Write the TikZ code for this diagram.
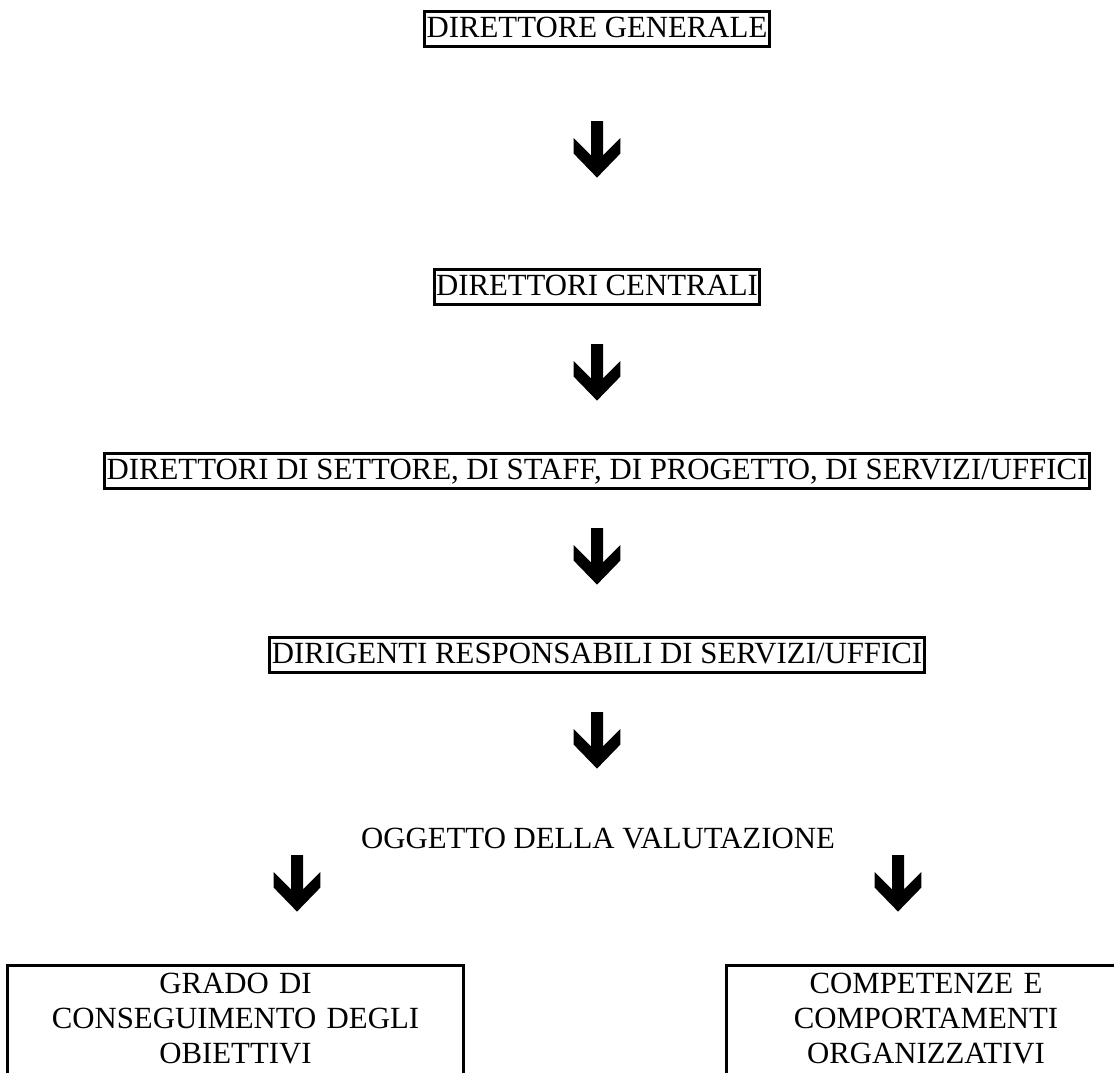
\documentclass[tikz,border=0pt]{standalone}
\usepackage{fontspec}
\setmainfont{Liberation Serif}
\usetikzlibrary{calc}

\tikzset{
  level/.style={draw,line width=3pt,inner sep=2pt,text height=23.5pt,text depth=7.5pt},
  goal/.style={anchor=north,align=center,inner xsep=5pt,inner ysep=8pt},
  frame/.style={line width=3pt},
  pics/bigdown/.style={code={
    \fill (-6,0) -- (-6,34.3) -- (-23.3,17) -- (-23.3,32.6) -- (0,56.6)
      -- (23.3,32.6) -- (23.3,17) -- (6,34.3) -- (6,0) -- cycle;}}
}

\begin{document}
\begin{tikzpicture}[x=1pt,y=-1pt,font=\fontsize{30.8}{35}\selectfont,node distance=184pt]
			\useasboundingbox (0,0) rectangle (1114,1072);
			\clip (0,0) rectangle (1114,1072);
			\node[level] (dg) at (597,29) {DIRETTORE GENERALE};
			\node[level] (dc) [below of=dg,node distance=258pt] {DIRETTORI CENTRALI};
			\node[level] (ds) [below of=dc] {DIRETTORI DI SETTORE, DI STAFF, DI PROGETTO, DI SERVIZI/UFFICI};
			\node[level] (dr) [below of=ds] {DIRIGENTI RESPONSABILI DI SERVIZI/UFFICI};
			\node[inner sep=0pt] (og) at (598,839) {OGGETTO DELLA VALUTAZIONE};
			\node[goal,text width=445pt] (gr) at (235.5,965) {GRADO DI\\CONSEGUIMENTO DEGLI\\OBIETTIVI};
			\node[goal,text width=388pt] (cc) at (926,965) {COMPETENZE E\\COMPORTAMENTI\\ORGANIZZATIVI};
			\draw[frame] (gr.north west) rectangle ([yshift=-60pt]gr.south east);
			\draw[frame] (cc.north west) rectangle ([yshift=-60pt]cc.south east);
			\pic at ($(dg.south)+(0,73)$) {bigdown};
			\pic at ($(dc.south)+(0,38)$) {bigdown};
			\pic at ($(ds.south)+(0,38)$) {bigdown};
			\pic at ($(dr.south)+(0,38)$) {bigdown};
			\pic at ($(og.center)+(-301,16)$) {bigdown};
			\pic at ($(og.center)+(300,16)$) {bigdown};
		\end{tikzpicture}
\end{document}
